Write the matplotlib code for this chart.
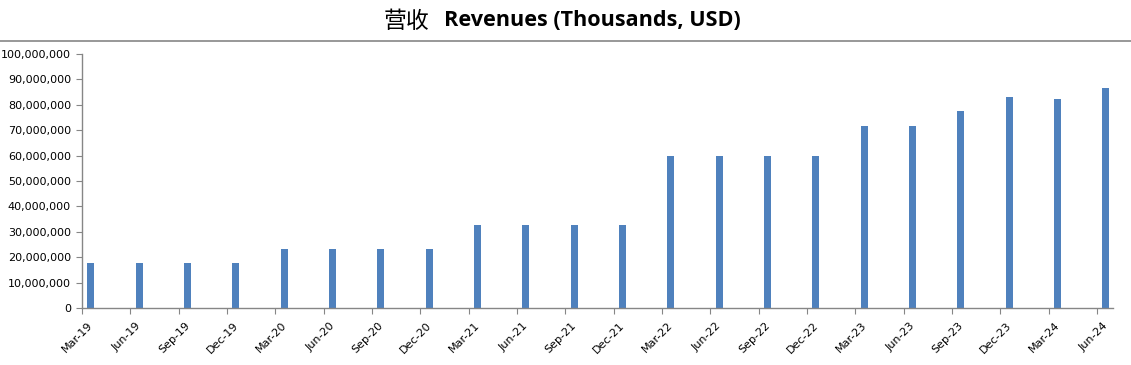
import matplotlib
matplotlib.use("Agg")
import matplotlib.pyplot as plt
from matplotlib.lines import Line2D
from matplotlib.ticker import FuncFormatter, FixedLocator
import numpy as np

quarters = ["Mar-19", "Jun-19", "Sep-19", "Dec-19",
            "Mar-20", "Jun-20", "Sep-20", "Dec-20",
            "Mar-21", "Jun-21", "Sep-21", "Dec-21",
            "Mar-22", "Jun-22", "Sep-22", "Dec-22",
            "Mar-23", "Jun-23", "Sep-23", "Dec-23",
            "Mar-24", "Jun-24"]
revenues = [17.9e6, 17.9e6, 17.9e6, 17.9e6,
            23.3e6, 23.3e6, 23.3e6, 23.3e6,
            32.7e6, 32.7e6, 32.7e6, 32.7e6,
            60.0e6, 60.0e6, 60.0e6, 60.0e6,
            71.7e6, 71.7e6, 77.7e6, 83.1e6,
            82.3e6, 86.7e6]
y_ticks = list(range(0, 100_000_001, 10_000_000))

title_cn = "营收"
title_en = "Revenues (Thousands, USD)"

W, H = 1131, 365
fig = plt.figure(figsize=(W / 100, H / 100), dpi=100)
ax = fig.add_axes([82 / W, 1 - 308 / H, (1113 - 82) / W, (308 - 54) / H])

gray = "#868686"
bar_color = "#4F81BD"

idx = np.arange(len(quarters))
offset = 0.18
ax.bar(idx + offset, revenues, width=0.145, color=bar_color, zorder=2)

ax.set_xlim(0, 21.33)
ax.set_ylim(0, 100_000_000)

# major ticks at category boundaries (tick marks only)
ax.xaxis.set_major_locator(FixedLocator(idx))
ax.xaxis.set_major_formatter(FuncFormatter(lambda v, p: ""))
ax.tick_params(axis="x", which="major", direction="out", length=4, color=gray)
# minor ticks carry the labels
ax.set_xticks(idx + 0.12, minor=True)
ax.set_xticklabels(quarters, minor=True, rotation=45, ha="right",
                   rotation_mode="anchor", fontsize=8, family="DejaVu Sans")
ax.tick_params(axis="x", which="minor", length=0, pad=9)

ax.set_yticks(y_ticks)
ax.yaxis.set_major_formatter(FuncFormatter(lambda v, p: f"{int(v):,}"))
ax.tick_params(axis="y", direction="out", length=4, color=gray, labelsize=8, pad=4)

for s in ["top", "right"]:
    ax.spines[s].set_visible(False)
for s in ["left", "bottom"]:
    ax.spines[s].set_color(gray)
    ax.spines[s].set_linewidth(1)

# title
fig.text(429 / W, 1 - 21 / H, title_cn, ha="right", va="center",
         fontsize=16.5, family=["Noto Sans CJK SC", "DejaVu Sans"])
fig.text(444 / W, 1 - 21 / H, title_en, ha="left", va="center",
         fontsize=15.6, fontweight="bold", family=["Open Sans", "DejaVu Sans"])
fig.add_artist(Line2D([0, 1], [1 - 40.5 / H, 1 - 40.5 / H], color=gray, lw=1.2))

fig.savefig("out.png", dpi=100)
